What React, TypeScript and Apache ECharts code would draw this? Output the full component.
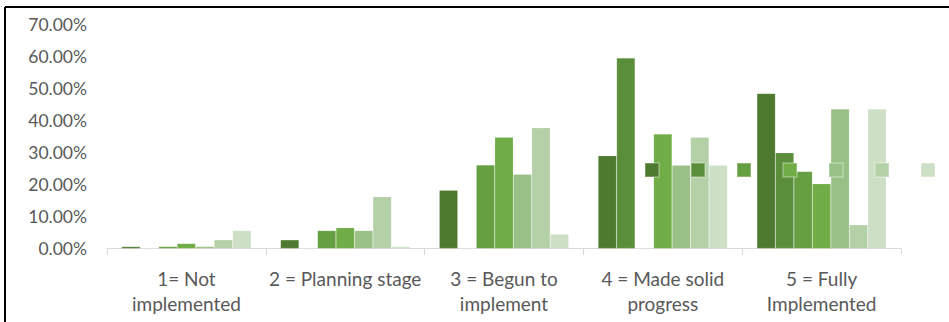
import React, { useEffect, useRef } from "react";
import * as echarts from "echarts";

const categories = [
  "1= Not\nimplemented",
  "2 = Planning stage",
  "3 = Begun to\nimplement",
  "4 = Made solid\nprogress",
  "5 = Fully\nImplemented",
];

const seriesNames = ["Series 1", "Series 2", "Series 3", "Series 4", "Series 5", "Series 6", "Series 7"];

const s1 = [0.6, 2.7, 18.2, 29.0, 48.4];
const s2 = [0, 0, 0, 59.5, 29.9];
const s3 = [0.6, 5.6, 26.1, 0, 24.1];
const s4 = [1.6, 6.5, 34.8, 35.8, 20.2];
const s5 = [0.6, 5.6, 23.2, 26.0, 43.6];
const s6 = [2.7, 16.2, 37.7, 34.8, 7.4];
const s7 = [5.6, 0.6, 4.5, 26.0, 43.6];

const seriesValues = [s1, s2, s3, s4, s5, s6, s7];
const colors = ["#4e7a2f", "#5a8e3a", "#659f41", "#70ad47", "#98c087", "#b4d0a6", "#cddfc4"];

const FONT = "Lato";

export default function App() {
  const ref = useRef<HTMLDivElement>(null);
  useEffect(() => {
    if (!ref.current) return;
    const chart = echarts.init(ref.current, null, { renderer: "svg" });
    chart.setOption({
      animation: false,
      backgroundColor: "#ffffff",
      color: colors,
      textStyle: { fontFamily: FONT },
      grid: { left: 107, right: 48, top: 24.5, bottom: 73.5, containLabel: false },
      legend: {
        data: seriesNames,
        left: 644,
        top: 162,
        width: 320,
        padding: 0,
        itemWidth: 14,
        itemHeight: 14,
        itemGap: 30,
        icon: "rect",
        formatter: () => "",
        selectedMode: false,
      },
      xAxis: {
        type: "category",
        data: categories,
        axisLine: { lineStyle: { color: "#d9d9d9", width: 1 } },
        axisTick: { show: true, length: 6, lineStyle: { color: "#d9d9d9" } },
        axisLabel: {
          color: "#595959",
          fontSize: 19,
          fontFamily: FONT,
          lineHeight: 25,
          margin: 17,
          interval: 0,
        },
        splitLine: { show: false },
      },
      yAxis: {
        type: "value",
        min: 0,
        max: 70,
        interval: 10,
        axisLine: { show: false },
        axisTick: { show: false },
        splitLine: { show: false },
        axisLabel: {
          color: "#595959",
          fontSize: 17.5,
          fontFamily: FONT,
          margin: 20,
          formatter: (v: number) => v.toFixed(2) + "%",
        },
      },
      graphic: [
        { type: "line", shape: { x1: 5, y1: 7, x2: 949, y2: 7 }, style: { stroke: "#000", lineWidth: 2 }, z: 10 },
        { type: "line", shape: { x1: 5, y1: 7, x2: 5, y2: 322 }, style: { stroke: "#000", lineWidth: 2 }, z: 10 },
      ],
      series: seriesValues.map((vals, i) => ({
        name: seriesNames[i],
        type: "bar",
        data: vals,
        barGap: "0%",
        barCategoryGap: "18.5%",
        itemStyle: { color: colors[i], borderColor: "rgba(255,255,255,0.25)", borderWidth: 0.5 },
      })),
    });
    return () => chart.dispose();
  }, []);
  return (
    <div style={{ position: "fixed", left: 0, top: 0, width: 949, height: 322, background: "#fff" }}>
      <div ref={ref} style={{ width: 949, height: 322 }} />
    </div>
  );
}
